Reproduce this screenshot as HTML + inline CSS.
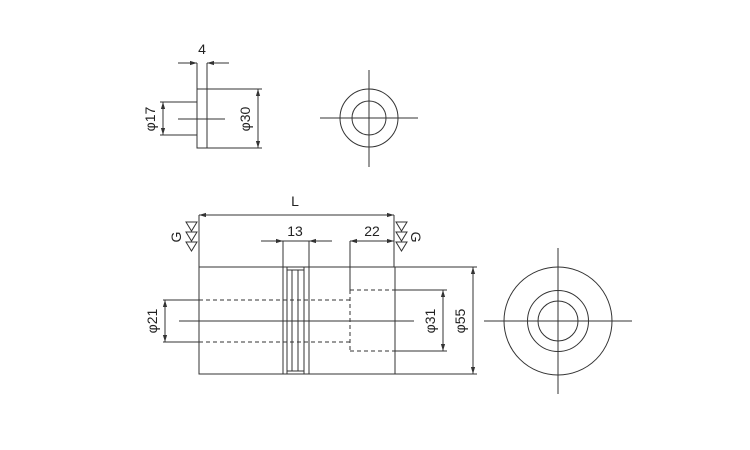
<!DOCTYPE html>
<html><head><meta charset="utf-8"><style>body{margin:0;background:#fff}svg{display:block}</style></head><body>
<svg width="750" height="450" viewBox="0 0 750 450" xmlns="http://www.w3.org/2000/svg" font-family="Liberation Sans, sans-serif" font-size="14" fill="none" stroke="#333" stroke-width="1">
<defs>
<marker id="a" viewBox="0 0 10 10" refX="10" refY="5" markerWidth="7" markerHeight="7" orient="auto-start-reverse"><path d="M0,2 L10,5 L0,8" fill="#333" stroke="none"/></marker>
</defs>
<rect x="197" y="89" width="10" height="59"/>
<line x1="197" y1="63" x2="197" y2="89"/><line x1="207" y1="63" x2="207" y2="89"/>
<line x1="178" y1="63" x2="197" y2="63" marker-end="url(#a)"/><line x1="229" y1="63" x2="207" y2="63" marker-end="url(#a)"/>
<text x="202" y="54" fill="#222" stroke="none" text-anchor="middle">4</text>
<line x1="178" y1="119" x2="225" y2="119"/>
<line x1="160" y1="102" x2="197" y2="102"/><line x1="160" y1="135" x2="197" y2="135"/>
<line x1="163" y1="102" x2="163" y2="135" marker-start="url(#a)" marker-end="url(#a)"/>
<text transform="translate(155,119) rotate(-90)" fill="#222" stroke="none" text-anchor="middle">φ17</text>
<line x1="207" y1="89" x2="262" y2="89"/><line x1="207" y1="148" x2="262" y2="148"/>
<line x1="258" y1="89" x2="258" y2="148" marker-start="url(#a)" marker-end="url(#a)"/>
<text transform="translate(250,119) rotate(-90)" fill="#222" stroke="none" text-anchor="middle">φ30</text>
<circle cx="369" cy="118" r="29"/><circle cx="369" cy="118" r="17"/>
<line x1="320" y1="118" x2="418" y2="118"/><line x1="369" y1="70" x2="369" y2="167"/>
<rect x="199" y="267" width="196" height="107"/>
<line x1="283" y1="267" x2="283" y2="374"/><line x1="309" y1="267" x2="309" y2="374"/>
<path d="M287 267V270M287 371V374M287 270V371M292 270V371M298 270V371M304 270V371M287 270H304M287 371H304M304 267V270M304 371V374"/>
<path d="M199 300H350M199 342H350M350 290V351M350 290H395M350 351H395" stroke-dasharray="4,3"/>
<line x1="179" y1="321" x2="414" y2="321"/>
<line x1="199" y1="215" x2="199" y2="267"/><line x1="394" y1="215" x2="394" y2="267"/>
<line x1="199" y1="215" x2="394" y2="215" marker-start="url(#a)" marker-end="url(#a)"/>
<text x="295" y="206" fill="#222" stroke="none" text-anchor="middle">L</text>
<line x1="283" y1="241" x2="283" y2="267"/><line x1="309" y1="241" x2="309" y2="267"/>
<line x1="261" y1="241" x2="283" y2="241" marker-end="url(#a)"/><line x1="332" y1="241" x2="309" y2="241" marker-end="url(#a)"/>
<line x1="283" y1="241" x2="309" y2="241"/>
<text x="295" y="236" fill="#222" stroke="none" text-anchor="middle">13</text>
<line x1="350" y1="241" x2="350" y2="290"/>
<line x1="350" y1="241" x2="394" y2="241" marker-start="url(#a)" marker-end="url(#a)"/>
<text x="372" y="236" fill="#222" stroke="none" text-anchor="middle">22</text>
<path d="M186 222H197L191.5 231ZM186 232H197L191.5 241ZM186 242H197L191.5 251Z"/>
<text transform="translate(181,237) rotate(-90)" fill="#222" stroke="none" text-anchor="middle">G</text>
<path d="M396 222H407L401.5 231ZM396 232H407L401.5 241ZM396 242H407L401.5 251Z"/>
<text transform="translate(411,237) rotate(90)" fill="#222" stroke="none" text-anchor="middle">G</text>
<line x1="163" y1="300" x2="199" y2="300"/><line x1="163" y1="342" x2="199" y2="342"/>
<line x1="165" y1="300" x2="165" y2="342" marker-start="url(#a)" marker-end="url(#a)"/>
<text transform="translate(157,321) rotate(-90)" fill="#222" stroke="none" text-anchor="middle">φ21</text>
<line x1="395" y1="290" x2="447" y2="290"/><line x1="395" y1="351" x2="447" y2="351"/>
<line x1="443" y1="290" x2="443" y2="351" marker-start="url(#a)" marker-end="url(#a)"/>
<text transform="translate(435,321) rotate(-90)" fill="#222" stroke="none" text-anchor="middle">φ31</text>
<line x1="395" y1="267" x2="477" y2="267"/><line x1="395" y1="374" x2="477" y2="374"/>
<line x1="473" y1="267" x2="473" y2="374" marker-start="url(#a)" marker-end="url(#a)"/>
<text transform="translate(465,321) rotate(-90)" fill="#222" stroke="none" text-anchor="middle">φ55</text>
<circle cx="558" cy="321" r="54"/><circle cx="558" cy="321" r="30.5"/><circle cx="558" cy="321" r="20"/>
<line x1="484" y1="321" x2="632" y2="321"/><line x1="558" y1="248" x2="558" y2="394"/>
</svg>
</body></html>
